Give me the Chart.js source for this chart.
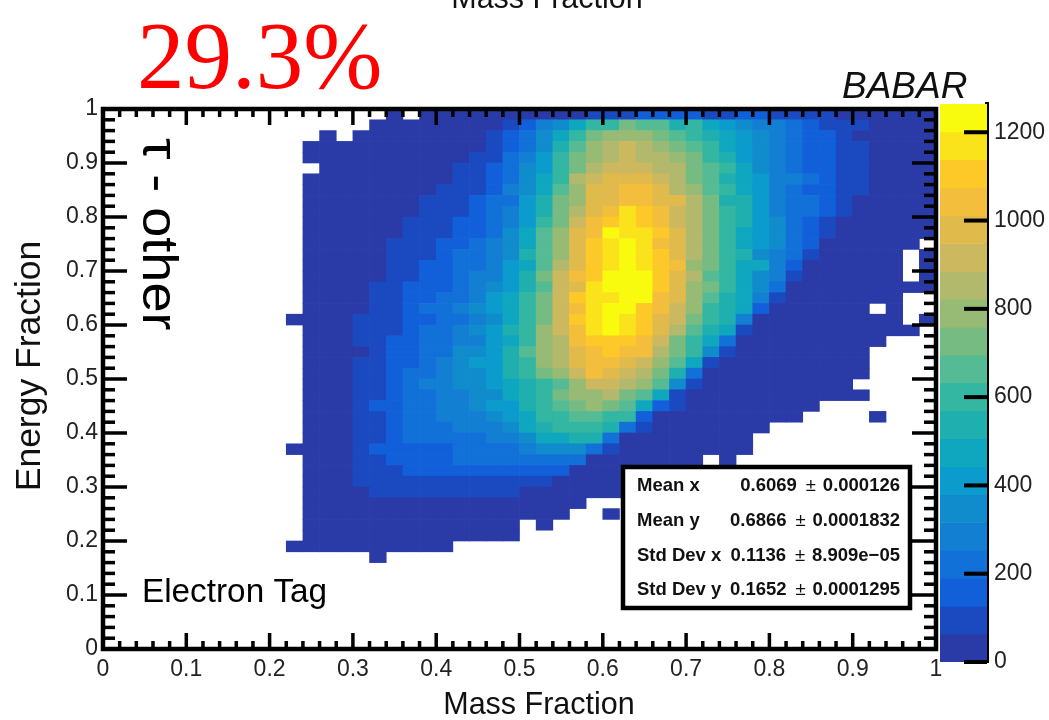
<!DOCTYPE html>
<html>
<head>
<meta charset="utf-8">
<title>Mass Fraction vs Energy Fraction</title>
<script src="https://cdn.jsdelivr.net/npm/chart.js@4/dist/chart.umd.min.js"></script>
<style>
  html, body { margin: 0; background: #fff; overflow: hidden; }
  #wrap { position: relative; width: 1049px; height: 720px; }
  #wrap canvas { position: absolute; }
</style>
</head>
<body>
<div id="wrap">
  <canvas id="map" width="1049" height="720" style="left:0;top:0"></canvas>
  <canvas id="bar" width="119" height="590" style="left:930px;top:90px"></canvas>
</div>
<script>
// Bin counts. Rows go top to bottom starting at y = 0.98,
// columns go left to right starting at x = 0.22. 0 means an empty (white) bin.
const binCounts = [
  [0,0,0,0,0,0,30,0,30,30,30,30,30,30,30,30,30,30,95,95,95,158,158,158,158,95,95,158,158,95,95,95,95,30,30,30,30,30,30],
  [0,0,0,0,0,30,30,30,30,30,30,30,30,95,158,284,348,474,600,600,727,664,664,537,600,474,411,348,284,284,221,158,95,95,95,30,30,30,30],
  [0,0,30,0,30,30,30,30,30,30,30,30,95,158,221,348,474,600,727,790,790,790,727,664,600,537,474,411,348,284,221,158,158,95,30,30,30,30,30],
  [0,30,30,30,30,30,30,30,30,30,30,30,95,158,221,348,537,664,790,853,916,853,790,727,664,600,474,411,348,284,221,158,158,95,95,30,30,30,30],
  [0,30,30,30,30,30,30,30,30,30,30,95,95,221,284,411,600,727,790,853,916,853,853,790,727,600,537,411,348,284,221,158,158,95,95,30,30,30,30],
  [0,0,30,30,30,30,30,30,30,30,95,95,158,221,348,411,600,727,853,916,916,916,853,853,727,664,600,474,348,284,221,158,158,95,95,30,30,30,30],
  [0,30,30,30,30,30,30,30,30,30,95,95,158,221,348,474,600,853,916,980,980,980,916,853,727,664,537,474,411,284,284,221,158,95,95,30,30,30,30],
  [0,30,30,30,30,30,30,30,30,95,95,95,158,284,348,474,664,790,980,980,1043,1043,980,853,790,664,600,474,411,284,221,158,158,95,95,30,30,30,30],
  [0,30,30,30,30,30,30,30,95,95,95,158,221,221,411,537,727,790,980,980,1043,1043,980,980,853,727,537,537,411,284,221,221,158,95,30,30,30,30,30],
  [0,30,30,30,30,30,30,30,95,95,95,158,221,284,411,537,727,853,980,1043,1169,1106,1043,916,853,727,600,537,411,284,221,221,158,95,30,30,30,30,30],
  [0,30,30,30,30,30,30,95,95,95,158,158,221,284,411,600,727,916,1043,1106,1169,1106,1043,916,853,727,600,537,411,348,221,158,95,30,30,30,30,30,30],
  [0,30,30,30,30,30,30,95,95,95,158,158,221,348,474,664,790,980,1043,1232,1169,1169,1106,980,853,727,600,474,411,348,221,158,95,30,30,30,30,30,30],
  [0,30,30,30,30,30,95,95,95,158,158,221,284,348,474,664,790,980,1106,1169,1232,1169,1043,980,853,727,600,474,411,348,221,158,30,30,30,30,30,30,0],
  [0,30,30,30,30,30,95,95,95,158,221,221,284,348,537,664,790,980,1106,1169,1232,1169,1106,980,853,727,600,537,348,284,221,95,30,30,30,30,30,0,30],
  [0,30,30,30,30,30,95,95,158,158,221,221,284,411,474,664,853,980,1106,1169,1232,1169,1106,1043,790,727,600,474,474,284,158,30,30,30,30,30,30,0,30],
  [0,30,30,30,30,30,95,95,158,158,221,284,284,411,537,727,916,1043,1106,1232,1232,1232,1106,980,853,664,600,474,348,284,95,30,30,30,30,30,30,0,30],
  [0,30,30,30,30,95,95,158,158,158,221,284,348,411,537,664,916,980,1169,1232,1232,1232,1106,980,790,727,600,474,348,221,30,30,30,30,30,30,30,30,30],
  [0,30,30,30,30,95,95,158,158,221,221,284,411,474,600,727,916,1106,1169,1169,1232,1232,1043,980,790,664,537,474,284,95,30,30,30,30,30,30,30,0,0],
  [0,30,30,30,30,95,95,158,221,221,284,348,411,474,600,727,916,1043,1169,1232,1232,1106,1043,916,790,600,537,474,158,30,30,30,30,30,30,0,30,0,0],
  [30,30,30,30,95,95,95,158,158,221,221,284,348,474,600,727,916,1106,1169,1232,1169,1106,980,916,727,600,537,284,30,30,30,30,30,30,30,30,30,0,30],
  [0,30,30,30,95,95,95,158,221,221,284,348,411,537,600,790,916,1043,1169,1232,1169,1106,980,853,664,537,474,95,30,30,30,30,30,30,30,30,30,30,0],
  [0,30,30,30,95,95,158,158,221,221,284,284,411,474,600,790,853,1043,1106,1106,1106,1043,916,727,600,474,221,30,30,30,30,30,30,30,30,30,0,0,0],
  [0,30,30,30,30,95,158,158,221,221,348,348,411,537,664,790,853,980,1043,1106,1043,1043,853,727,600,348,95,30,30,30,30,30,30,30,30,0,0,0,0],
  [0,30,30,30,95,95,158,158,221,284,348,411,411,537,600,790,853,980,1043,1043,980,916,790,664,474,95,30,30,30,30,30,30,30,30,30,0,0,0,0],
  [0,30,30,30,95,95,158,221,221,284,348,348,411,537,600,727,790,916,1043,980,916,853,727,537,221,30,30,30,30,30,30,30,30,30,30,0,0,0,0],
  [0,30,30,30,95,95,158,221,284,284,348,348,411,474,537,600,664,790,916,916,853,790,664,348,95,30,30,30,30,30,30,30,30,30,0,0,0,0,0],
  [0,30,30,30,95,95,158,221,221,284,284,348,348,474,537,600,727,790,790,853,727,664,474,95,30,30,30,30,30,30,30,30,30,30,30,0,0,0,0],
  [0,30,30,30,95,158,158,221,221,284,284,348,411,411,537,600,664,727,790,727,664,474,158,95,30,30,30,30,30,30,30,30,0,0,0,0,0,0,0],
  [0,30,30,30,95,95,158,221,221,284,284,284,348,411,474,600,600,664,664,600,600,158,30,30,30,30,30,30,30,30,30,0,0,0,0,30,0,0,0],
  [0,30,30,30,95,95,158,221,221,221,284,284,284,348,474,537,600,600,600,537,221,95,30,30,30,30,30,30,30,0,0,0,0,0,0,0,0,0,0],
  [0,30,30,30,95,95,158,221,221,221,221,221,284,284,348,474,474,537,537,221,30,30,30,30,30,30,30,30,0,0,0,0,0,0,0,0,0,0,0],
  [30,30,30,30,95,158,158,158,158,158,221,221,221,221,284,348,348,348,221,95,30,30,30,30,30,30,30,30,0,0,0,0,0,0,0,0,0,0,0],
  [0,30,30,30,95,95,158,158,158,158,221,221,221,221,221,221,221,221,30,30,30,30,30,30,30,0,30,0,0,0,0,0,0,0,0,0,0,0,0],
  [0,30,30,30,95,95,95,158,158,158,158,158,158,158,158,158,158,30,30,30,30,30,30,30,0,0,0,0,0,0,0,0,0,0,0,0,0,0,0],
  [0,30,30,30,95,95,95,95,95,95,95,95,95,95,95,95,30,30,30,30,30,30,0,0,0,0,0,0,0,0,0,0,0,0,0,0,0,0,0],
  [0,30,30,30,30,95,95,95,95,95,95,95,95,95,30,30,30,30,30,30,30,30,0,0,0,0,0,0,0,0,0,0,0,0,0,0,0,0,0],
  [0,30,30,30,30,30,30,30,30,30,30,30,30,30,30,30,30,30,0,0,0,0,0,0,0,0,0,0,0,0,0,0,0,0,0,0,0,0,0],
  [0,30,30,30,30,30,30,30,30,30,30,30,30,30,30,30,30,0,0,30,0,0,0,0,0,0,0,0,0,0,0,0,0,0,0,0,0,0,0],
  [0,30,30,30,30,30,30,30,30,30,30,30,30,30,0,30,0,0,0,0,0,0,0,0,0,0,0,0,0,0,0,0,0,0,0,0,0,0,0],
  [0,30,30,30,30,30,30,30,30,30,30,30,30,30,0,0,0,0,0,0,0,0,0,0,0,0,0,0,0,0,0,0,0,0,0,0,0,0,0],
  [30,30,30,30,30,30,30,30,30,30,0,0,0,0,0,0,0,0,0,0,0,0,0,0,0,0,0,0,0,0,0,0,0,0,0,0,0,0,0],
  [0,0,0,0,0,30,0,0,0,0,0,0,0,0,0,0,0,0,0,0,0,0,0,0,0,0,0,0,0,0,0,0,0,0,0,0,0,0,0]
];
const firstColLow = 0.22;
const topRowLow = 0.98;
const binWidth = 0.02;

// Colour levels of the z axis, bottom to top
const zEdges = [0,63,126,190,253,316,379,442,506,569,632,695,758,822,885,948,1011,1074,1138,1201,1264];
const zPalette = ['#2a3aa6','#1a49c0','#1160da','#1270d9','#137fd3','#108bcc','#0b9bcc','#0fa6bf','#1fafae','#33b6a2',
                  '#55bb94','#75bb82','#97ba74','#b2b96d','#ccb85f','#e0bb4c','#f3be3b','#fdc928','#fae31b','#f9fb0e'];
const zTicks = [0,200,400,600,800,1000,1200];

const statLabels = ['Mean x','Mean y','Std Dev x','Std Dev y'];
const statValues = ['0.6069','0.6866','0.1136','0.1652'];
const statErrors = ['0.000126','0.0001832','8.909e\u221205','0.0001295'];

function levelColor(count) {
  for (let l = zPalette.length - 1; l >= 0; l--) {
    if (count >= zEdges[l]) return zPalette[l];
  }
  return zPalette[0];
}

// ── Heat map cells as floating bars ─────────────────────────────────────────
const cells = [];
const cellColors = [];
binCounts.forEach((row, r) => {
  row.forEach((count, c) => {
    if (!count) return;
    const col = Math.round(firstColLow / binWidth) + c;
    const lowRow = Math.round(topRowLow / binWidth) - r;
    cells.push({ x: (col + 0.5) * binWidth, y: [lowRow * binWidth, (lowRow + 1) * binWidth] });
    cellColors.push(levelColor(count));
  });
});

const FONT = '"Liberation Sans", Arial, sans-serif';

function tickLabel(v) {
  return Math.abs(v % 0.1) < 1e-6 || Math.abs(v % 0.1 - 0.1) < 1e-6 ? String(+v.toFixed(1)) : '';
}

// ROOT style frame with inward ticks on all four sides
const framePlugin = {
  id: 'frame',
  afterDatasetsDraw(chart) {
    const { ctx, chartArea: a, scales: { x, y } } = chart;
    ctx.save();
    ctx.fillStyle = '#000';
    for (let i = 0; i <= 50; i++) {
      const major = i % 5 === 0;
      const px = x.getPixelForValue(i * binWidth);
      const py = y.getPixelForValue(i * binWidth);
      const hLen = major ? 16 : 8;
      const vLen = major ? 24 : 12;
      ctx.fillRect(px - 1.75, a.bottom - hLen, 3.5, hLen);
      ctx.fillRect(px - 1.75, a.top, 3.5, hLen);
      ctx.fillRect(a.left, py - 1.75, vLen, 3.5);
      ctx.fillRect(a.right - vLen, py - 1.75, vLen, 3.5);
    }
    ctx.strokeStyle = '#000';
    ctx.lineWidth = 4.5;
    ctx.strokeRect(a.left, a.top, a.right - a.left, a.bottom - a.top);
    ctx.restore();
  }
};

// Annotations, axis titles and the stats box
const textPlugin = {
  id: 'texts',
  afterDraw(chart) {
    const ctx = chart.ctx;
    ctx.save();

    ctx.fillStyle = '#f00';
    ctx.font = '95px "Liberation Serif", serif';
    ctx.textAlign = 'left';
    ctx.textBaseline = 'alphabetic';
    ctx.fillText('29.3%', 137, 88);

    ctx.fillStyle = '#111';
    ctx.font = '30.5px ' + FONT;
    ctx.textAlign = 'center';
    ctx.fillText('Mass Fraction', 547, 8);
    ctx.fillText('Mass Fraction', 539, 714);

    ctx.save();
    ctx.translate(40, 366);
    ctx.rotate(-Math.PI / 2);
    ctx.font = '35.5px ' + FONT;
    ctx.fillText('Energy Fraction', 0, 0);
    ctx.restore();

    ctx.font = 'italic 37px ' + FONT;
    ctx.textAlign = 'left';
    ctx.fillText('BABAR', 842, 98);

    ctx.fillStyle = '#000';
    ctx.font = '33.3px ' + FONT;
    ctx.fillText('Electron Tag', 142, 602);

    ctx.save();
    ctx.translate(143, 138);
    ctx.rotate(Math.PI / 2);
    ctx.scale(1.08, 1);
    ctx.font = '50px ' + FONT;
    ctx.fillText('\u03c4 - other', 0, 0);
    ctx.restore();

    // stats box
    ctx.fillStyle = '#fff';
    ctx.strokeStyle = '#000';
    ctx.lineWidth = 4.5;
    ctx.fillRect(623, 467, 287, 141);
    ctx.strokeRect(623, 467, 287, 141);

    const rowY = [486, 521, 556, 590];
    ctx.textBaseline = 'middle';
    statLabels.forEach((label, i) => {
      ctx.fillStyle = '#111';
      ctx.font = 'bold 18.5px ' + FONT;
      ctx.textAlign = 'left';
      ctx.fillText(label, 637, rowY[i]);
      ctx.textAlign = 'right';
      ctx.fillText(statErrors[i], 900, rowY[i]);
      const errStart = 900 - ctx.measureText(statErrors[i]).width;
      ctx.fillText(statValues[i], errStart - 26, rowY[i]);
      ctx.font = '18.5px ' + FONT;
      ctx.textAlign = 'center';
      ctx.fillText('\u00b1', errStart - 12, rowY[i]);
    });
    ctx.restore();
  }
};

new Chart(document.getElementById('map'), {
  type: 'bar',
  data: {
    datasets: [{
      data: cells,
      backgroundColor: cellColors,
      borderWidth: 0,
      grouped: false,
      barPercentage: 1,
      categoryPercentage: 1
    }]
  },
  options: {
    responsive: false,
    animation: false,
    events: [],
    layout: { padding: { top: 109, right: 113, bottom: 0, left: 0 } },
    plugins: { legend: { display: false }, tooltip: { enabled: false } },
    scales: {
      x: {
        type: 'linear',
        min: 0,
        max: 1,
        offset: false,
        grid: { display: false, drawTicks: false },
        border: { display: false },
        afterFit(scale) { scale.height = 71; },
        ticks: {
          stepSize: 0.1,
          autoSkip: false,
          maxRotation: 0,
          padding: 7,
          color: '#222',
          font: { family: FONT, size: 23 },
          callback: tickLabel
        }
      },
      y: {
        min: 0,
        max: 1,
        grid: { display: false, drawTicks: false },
        border: { display: false },
        afterFit(scale) { scale.width = 103; },
        ticks: {
          stepSize: 0.1,
          autoSkip: false,
          padding: 5,
          color: '#222',
          font: { family: FONT, size: 23 },
          callback: tickLabel
        }
      }
    }
  },
  plugins: [framePlugin, textPlugin]
});

// ── Colour scale ────────────────────────────────────────────────────────────
const barTicksPlugin = {
  id: 'barTicks',
  afterDatasetsDraw(chart) {
    const { ctx, chartArea: a, scales: { y } } = chart;
    ctx.save();
    ctx.fillStyle = '#000';
    zTicks.forEach(v => ctx.fillRect(a.right - 23, y.getPixelForValue(v) - 2, 23, 4));
    ctx.restore();
  }
};

new Chart(document.getElementById('bar'), {
  type: 'bar',
  data: {
    datasets: [{
      data: zPalette.map((c, i) => ({ x: 0.5, y: [zEdges[i], zEdges[i + 1]] })),
      backgroundColor: zPalette,
      borderWidth: 0,
      grouped: false,
      barThickness: 47
    }]
  },
  options: {
    responsive: false,
    animation: false,
    events: [],
    layout: { padding: { top: 14, right: 0, bottom: 18, left: 10 } },
    plugins: { legend: { display: false }, tooltip: { enabled: false } },
    scales: {
      x: { type: 'linear', min: 0, max: 1, offset: false, display: false },
      y: {
        position: 'right',
        min: 0,
        max: zEdges[zEdges.length - 1],
        grid: { display: false, drawTicks: false },
        border: { display: true, color: '#000', width: 4 },
        afterFit(scale) { scale.width = 62; scale.paddingTop = 0; scale.paddingBottom = 0; },
        afterBuildTicks(scale) { scale.ticks = zTicks.map(v => ({ value: v })); },
        ticks: {
          padding: 7,
          color: '#222',
          font: { family: FONT, size: 23 },
          callback: v => String(v)
        }
      }
    }
  },
  plugins: [barTicksPlugin]
});
</script>
</body>
</html>
